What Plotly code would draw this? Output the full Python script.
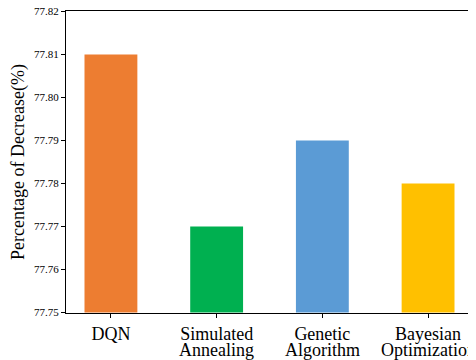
import plotly.graph_objects as go

categories = ["DQN", "Simulated Annealing", "Genetic Algorithm", "Bayesian Optimization"]
label_line1 = ["DQN", "Simulated", "Genetic", "Bayesian"]
label_line2 = ["", "Annealing", "Algorithm", "Optimization"]
values = [77.81, 77.77, 77.79, 77.78]
colors = ["#ED7D31", "#00B050", "#5B9BD5", "#FFC000"]
y_ticks = [77.75, 77.76, 77.77, 77.78, 77.79, 77.80, 77.81, 77.82]
baseline = 77.75

FONT = "Liberation Serif, Times New Roman, serif"
xpos = list(range(len(categories)))

# page body has an 8px margin, so the figure is shrunk and shifted by that amount
fig = go.Figure(go.Bar(
    x=xpos, y=[v - baseline for v in values], base=baseline,
    marker_color=colors, marker_line_width=0, width=0.5,
    hovertext=categories,
))

for xi, t in zip(xpos, label_line2):
    if t:
        fig.add_annotation(x=xi, y=0, xref="x", yref="paper", text=t, showarrow=False,
                           yanchor="middle", yshift=-37, font=dict(size=18, family=FONT))

fig.update_layout(
    width=468, height=352,
    margin=dict(l=58, r=3, t=3, b=47),
    plot_bgcolor="white", paper_bgcolor="white",
    font=dict(family=FONT, color="black"),
    showlegend=False,
)
fig.update_xaxes(
    range=[-0.425, 3.425], tickvals=xpos, ticktext=label_line1,
    showline=True, linecolor="black", linewidth=1, mirror=True,
    ticks="outside", ticklen=4, tickcolor="black", showgrid=False,
    tickfont=dict(size=18), automargin=False,
)
fig.update_yaxes(
    range=[77.7499, 77.8201], tickvals=y_ticks, ticktext=[f"{t:.2f}" for t in y_ticks],
    showline=True, linecolor="black", linewidth=1, mirror=True,
    ticks="outside", ticklen=4, tickcolor="black", showgrid=False, zeroline=False,
    tickfont=dict(size=11), automargin=False, ticklabeloverflow="allow",
    title=dict(text="Percentage of Decrease(%)", font=dict(size=18), standoff=10),
)
fig.write_html("out.html")
